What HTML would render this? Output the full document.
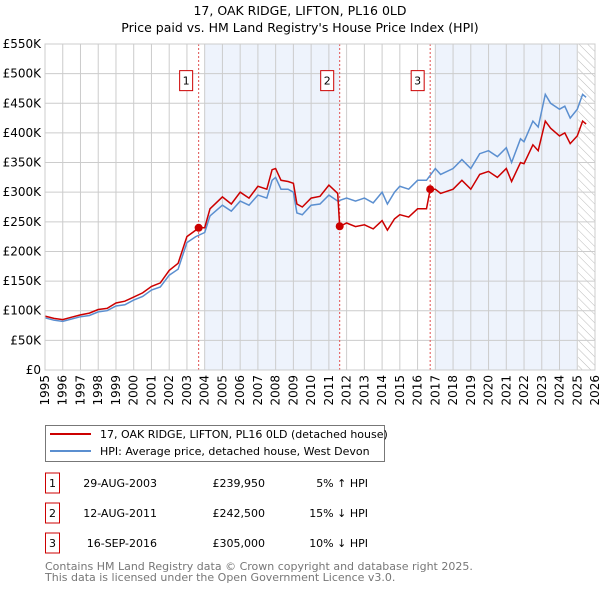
<!DOCTYPE html>
<html><head><meta charset="utf-8"><style>
body{margin:0;background:#fff;font-family:"Liberation Sans","DejaVu Sans",sans-serif;}
svg text{font-family:"DejaVu Sans","Liberation Sans",sans-serif;}
</style></head><body>
<svg id="c" width="600" height="590" xmlns="http://www.w3.org/2000/svg">
<text x="300" y="15" text-anchor="middle" font-size="12.5">17, OAK RIDGE, LIFTON, PL16 0LD</text>
<text x="300" y="32" text-anchor="middle" font-size="12.5">Price paid vs. HM Land Registry's House Price Index (HPI)</text>
<defs><pattern id="hatch" width="6" height="6" patternUnits="userSpaceOnUse" patternTransform="rotate(-45)"><line x1="0" y1="0" x2="0" y2="6" stroke="#bbb" stroke-width="1"/></pattern></defs>
<g id="plot"></g>
<g id="legend">
<rect x="45.5" y="425.5" width="339" height="36" fill="#fff" stroke="#777"/>
<line x1="50" y1="434" x2="91" y2="434" stroke="#cc0000" stroke-width="2"/>
<text x="100" y="438" font-size="11">17, OAK RIDGE, LIFTON, PL16 0LD (detached house)</text>
<line x1="50" y1="451" x2="91" y2="451" stroke="#5b8fd0" stroke-width="2"/>
<text x="100" y="455" font-size="11">HPI: Average price, detached house, West Devon</text>
</g>
<g id="table" font-size="11"></g>
<text x="45" y="570" font-size="11" fill="#777">Contains HM Land Registry data © Crown copyright and database right 2025.</text>
<text x="45" y="581" font-size="11" fill="#777">This data is licensed under the Open Government Licence v3.0.</text>
</svg>
<script>
const hpiDates=[1995,1995.5,1996,1996.5,1997,1997.5,1998,1998.5,1999,1999.5,2000,2000.5,2001,2001.5,2002,2002.5,2003,2003.5,2004,2004.3,2005,2005.5,2006,2006.5,2007,2007.5,2007.8,2008,2008.3,2008.7,2009,2009.2,2009.5,2010,2010.5,2011,2011.5,2012,2012.5,2013,2013.5,2014,2014.3,2014.7,2015,2015.5,2016,2016.5,2017,2017.3,2018,2018.5,2019,2019.5,2020,2020.5,2021,2021.3,2021.8,2022,2022.5,2022.8,2023.2,2023.5,2024,2024.3,2024.6,2025,2025.3,2025.5];
const hpiValues=[88,84,82,86,90,92,98,100,108,110,118,124,135,140,160,170,215,225,232,260,278,268,285,278,295,290,320,325,305,305,300,265,262,278,280,295,285,290,285,290,282,300,280,300,310,305,320,320,340,330,340,355,340,365,370,360,375,350,390,385,420,410,465,450,440,445,425,440,465,460];
const redDates=[1995,1995.5,1996,1996.5,1997,1997.5,1998,1998.5,1999,1999.5,2000,2000.5,2001,2001.5,2002,2002.5,2003,2003.5,2003.66,2004,2004.3,2005,2005.5,2006,2006.5,2007,2007.5,2007.8,2008,2008.3,2008.7,2009,2009.2,2009.5,2010,2010.5,2011,2011.5,2011.61,2012,2012.5,2013,2013.5,2014,2014.3,2014.7,2015,2015.5,2016,2016.5,2016.71,2017,2017.3,2018,2018.5,2019,2019.5,2020,2020.5,2021,2021.3,2021.8,2022,2022.5,2022.8,2023.2,2023.5,2024,2024.3,2024.6,2025,2025.3,2025.5];
const redValues=[91,87,85,89,93,96,102,104,113,116,123,130,141,147,168,180,225,236,240,240,272,292,280,300,290,310,305,338,340,320,318,315,280,275,290,293,312,298,242,248,242,245,238,252,236,255,262,258,272,272,305,305,298,305,320,305,330,335,325,340,318,350,348,380,370,420,408,395,400,382,395,420,415];
const saleDates=[2003.66,2011.61,2016.71];
const saleValues=[239.95,242.5,305];
const saleLabels=["1","2","3"];
const saleDateText=["29-AUG-2003","12-AUG-2011","16-SEP-2016"];
const salePriceText=["£239,950","£242,500","£305,000"];
const saleHpiText=["5% ↑ HPI","15% ↓ HPI","10% ↓ HPI"];
const yTicks=[0,50,100,150,200,250,300,350,400,450,500,550];
const xYears=[1995,1996,1997,1998,1999,2000,2001,2002,2003,2004,2005,2006,2007,2008,2009,2010,2011,2012,2013,2014,2015,2016,2017,2018,2019,2020,2021,2022,2023,2024,2025,2026];

const L=45,R=595,T=44,B=370;
const X=d=>L+(d-1995)/(2026-1995)*(R-L);
const Y=v=>B-v/550*(B-T);
const NS="http://www.w3.org/2000/svg";
const g=document.getElementById('plot');
function mk(tag,attrs,parent){const e=document.createElementNS(NS,tag);for(const k in attrs)e.setAttribute(k,attrs[k]);(parent||g).appendChild(e);return e;}

let r=mk('rect',{x:L,y:T,width:R-L,height:B-T,fill:'#fff'});


r=mk('rect',{x:X(2004),y:T,width:X(2011.61)-X(2004),height:B-T,fill:'#eef3fc'});


r=mk('rect',{x:X(2017),y:T,width:X(2025)-X(2017),height:B-T,fill:'#eef3fc'});


r=mk('rect',{x:X(2025.05),y:T,width:R-X(2025.05),height:B-T,fill:'url(#hatch)'});



yTicks.forEach(v=>{
 let l=mk('line',{x1:L,x2:R,y1:Y(v),y2:Y(v),stroke:'#ccc','stroke-width':1});
 
 
 let t=mk('text',{x:L-4,y:Y(v)+4,'text-anchor':'end','font-size':12});
 t.textContent='£'+(v===0?'0':v+'K');
 
 
});
xYears.forEach(y=>{
 let l=mk('line',{x1:X(y),x2:X(y),y1:T,y2:B,stroke:'#ccc','stroke-width':1});
 
 
 let t=mk('text',{x:0,y:0,'text-anchor':'end','font-size':12,transform:`translate(${X(y)+4},${B+5}) rotate(-90)`});
 t.textContent=y;
 
 
});
saleDates.forEach((d,i)=>{
 let l=mk('line',{x1:X(d),x2:X(d),y1:T,y2:B,stroke:'#e05050','stroke-width':1,'stroke-dasharray':'2,2'});
 
 
 let bx=mk('rect',{x:X(d)-19,y:Y(500)-3,width:13,height:20,fill:'#fff',stroke:'#cc0000'});
 
 
 let t=mk('text',{x:X(d)-12.5,y:Y(500)+11,'text-anchor':'middle','font-size':11});
 t.textContent=saleLabels[i];
 
 
});
const path=(ds,vs)=>ds.map((d,i)=>(i?'L':'M')+X(d).toFixed(1)+','+Y(vs[i]).toFixed(1)).join('');
let p=mk('path',{d:path(hpiDates,hpiValues),fill:'none',stroke:'#5b8fd0','stroke-width':1.5});


p=mk('path',{d:path(redDates,redValues),fill:'none',stroke:'#cc0000','stroke-width':1.5});


saleDates.forEach((d,i)=>{
 let c=mk('circle',{cx:X(d),cy:Y(saleValues[i]),r:4,fill:'#cc0000'});
 
 
});
r=mk('rect',{x:L,y:T,width:R-L,height:B-T,fill:'none',stroke:'#ccc'});



const tb=document.getElementById('table');
const rowY=[491,521,551];
saleLabels.forEach((s,i)=>{
 const y=rowY[i];
 let b=mk('rect',{x:45.5,y:y-18,width:14,height:20,fill:'#fff',stroke:'#cc0000'},tb);
 
 
 let t=mk('text',{x:52.5,y:y-4,'text-anchor':'middle'},tb);t.textContent=s;
 
 
 t=mk('text',{x:157,y:y-4,'text-anchor':'end'},tb);t.textContent=saleDateText[i];
 
 
 t=mk('text',{x:265,y:y-4,'text-anchor':'end'},tb);t.textContent=salePriceText[i];
 
 
 t=mk('text',{x:368,y:y-4,'text-anchor':'end'},tb);t.textContent=saleHpiText[i];
 
 
});
</script>
</body></html>
